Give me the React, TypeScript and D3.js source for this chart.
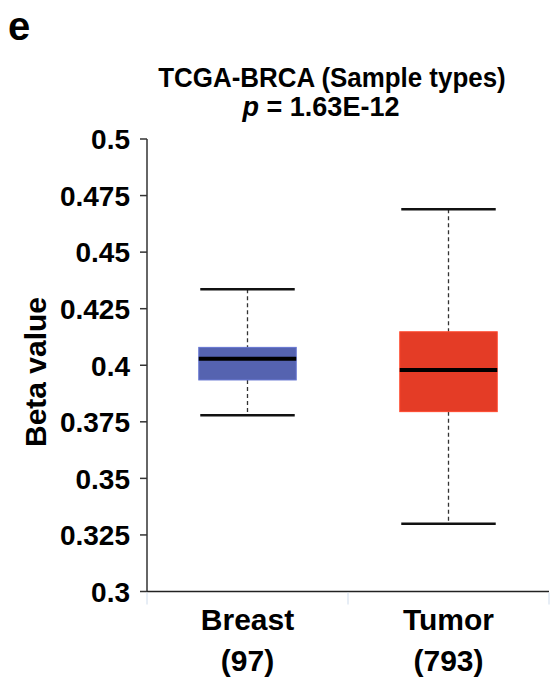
import React from 'react';
import * as d3 from 'd3';

const width = 552;
const height = 677;

const groups = ['Breast', 'Tumor'];
const counts = ['(97)', '(793)'];
const lowerWhisker = [0.3779, 0.330];
const q1 = [0.3935, 0.3795];
const median = [0.4029, 0.3979];
const q3 = [0.4079, 0.4148];
const upperWhisker = [0.4336, 0.4689];
const colors = ['#5563b0', '#e43c26'];
const yTicks = [0.3, 0.325, 0.35, 0.375, 0.4, 0.425, 0.45, 0.475, 0.5];

const font = '"Liberation Sans", Arial, Helvetica, sans-serif';

export default function App() {
  const margin = { top: 139, right: 3, bottom: 85.5, left: 147 };
  const innerW = width - margin.left - margin.right;
  const innerH = height - margin.top - margin.bottom;

  const y = d3.scaleLinear().domain([0.3, 0.5]).range([margin.top + innerH, margin.top]);
  const x = d3
    .scaleBand()
    .domain(groups)
    .range([margin.left, margin.left + innerW])
    .paddingInner(0)
    .paddingOuter(0);

  const boxW = x.bandwidth() * 0.485;
  const capW = x.bandwidth() * 0.235;
  const x0 = margin.left;
  const y0 = y(0.3);

  return (
    <svg
      width={width}
      height={height}
      style={{ position: 'absolute', left: 0, top: 0, background: '#fff' }}
      fontFamily={font}
      fontWeight="bold"
    >
      <text x={8} y={40} fontSize={40}>e</text>

      <text x={332} y={87} fontSize={27} textAnchor="middle" transform="translate(332,0) scale(0.96,1) translate(-332,0)">
        TCGA-BRCA (Sample types)
      </text>
      <text x={321} y={116} fontSize={27} textAnchor="middle">
        <tspan fontStyle="italic">p</tspan> = 1.63E-12
      </text>

      {/* y axis */}
      <line x1={x0} x2={x0} y1={y(0.5)} y2={y0} stroke="#333" strokeWidth={1.5} />
      {yTicks.map((t) => (
        <g key={t}>
          <line x1={x0 - 7} x2={x0} y1={y(t)} y2={y(t)} stroke="#333" strokeWidth={1.5} />
          <text x={130} y={y(t)} dy="0.37em" fontSize={28} textAnchor="end">
            {String(t)}
          </text>
        </g>
      ))}
      <text
        transform={`translate(46,372) rotate(-90)`}
        fontSize={30}
        textAnchor="middle"
      >
        Beta value
      </text>

      {/* x axis */}
      <line x1={x0} x2={margin.left + innerW} y1={y0} y2={y0} stroke="#222" strokeWidth={1.5} />
      {[...groups.map((g) => x(g) as number), margin.left + innerW].map((v, i) => (
        <line key={i} x1={v} x2={v} y1={y0 + 1} y2={y0 + 13} stroke="#cfdcec" strokeWidth={1} />
      ))}

      {groups.map((g, i) => {
        const cx = (x(g) as number) + x.bandwidth() / 2;
        return (
          <g key={g}>
            <line
              x1={cx}
              x2={cx}
              y1={y(upperWhisker[i])}
              y2={y(q3[i])}
              stroke="#333"
              strokeWidth={1.3}
              strokeDasharray="4,3"
            />
            <line
              x1={cx}
              x2={cx}
              y1={y(q1[i])}
              y2={y(lowerWhisker[i])}
              stroke="#333"
              strokeWidth={1.3}
              strokeDasharray="4,3"
            />
            <line x1={cx - capW} x2={cx + capW} y1={y(upperWhisker[i])} y2={y(upperWhisker[i])} stroke="#111" strokeWidth={2.5} />
            <line x1={cx - capW} x2={cx + capW} y1={y(lowerWhisker[i])} y2={y(lowerWhisker[i])} stroke="#111" strokeWidth={2.5} />
            <rect
              x={cx - boxW / 2}
              y={y(q3[i])}
              width={boxW}
              height={y(q1[i]) - y(q3[i])}
              fill={colors[i]}
              stroke={d3.color(colors[i])!.brighter(0.5).toString()}
              strokeWidth={1}
            />
            <line
              x1={cx - boxW / 2}
              x2={cx + boxW / 2}
              y1={y(median[i])}
              y2={y(median[i])}
              stroke="#000"
              strokeWidth={4}
            />
            <text x={cx} y={630} fontSize={30} textAnchor="middle">{g}</text>
            <text x={cx} y={671} fontSize={30} textAnchor="middle">{counts[i]}</text>
          </g>
        );
      })}
    </svg>
  );
}
